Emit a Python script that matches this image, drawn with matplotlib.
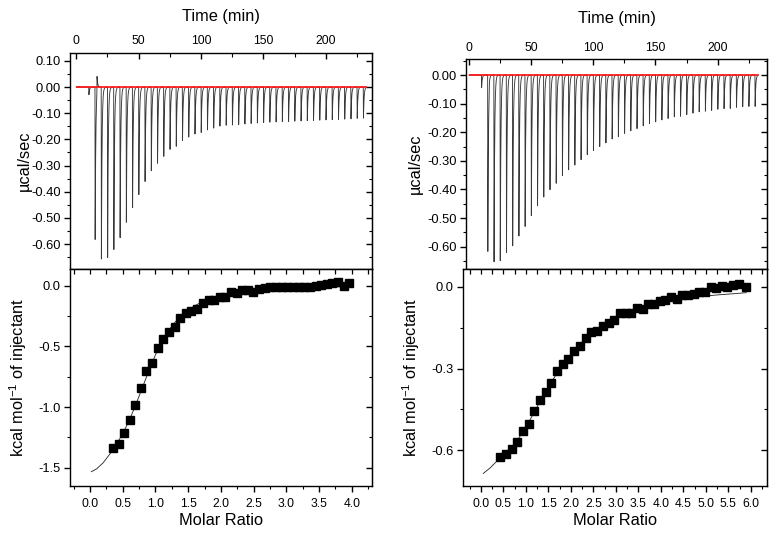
import numpy as np
import matplotlib
matplotlib.use('Agg')
import matplotlib.pyplot as plt
from matplotlib.ticker import MultipleLocator, FormatStrFormatter

plt.rcParams['font.family'] = ['Liberation Sans', 'DejaVu Sans']
plt.rcParams['axes.unicode_minus'] = False
plt.rcParams['mathtext.fontset'] = 'custom'
plt.rcParams['mathtext.rm'] = 'Liberation Sans'
plt.rcParams['mathtext.it'] = 'Liberation Sans:italic'

# ---------------- data ----------------
# injection times (min): first small injection followed by 44 injections
inj_times = [10, 15, 20, 25, 30, 35, 40, 45, 50, 55, 60, 65, 70, 75, 80, 85, 90, 95,
             100, 105, 110, 115, 120, 125, 130, 135, 140, 145, 150, 155, 160, 165,
             170, 175, 180, 185, 190, 195, 200, 205, 210, 215, 220, 225, 230]

# peak heights (ucal/sec) of each injection, left experiment
left_peaks = [-0.030, -0.594, -0.670, -0.664, -0.633, -0.587, -0.527, -0.470, -0.419,
              -0.368, -0.326, -0.297, -0.270, -0.243, -0.231, -0.208, -0.195, -0.183,
              -0.177, -0.167, -0.160, -0.152, -0.149, -0.148, -0.146, -0.144, -0.142,
              -0.140, -0.138, -0.137, -0.136, -0.135, -0.134, -0.133, -0.132, -0.131,
              -0.130, -0.129, -0.128, -0.127, -0.126, -0.125, -0.124, -0.122, -0.121]
left_blip_time = 16.5
left_blip_height = 0.071

# right experiment
right_peaks = [-0.045, -0.629, -0.666, -0.662, -0.633, -0.609, -0.574, -0.540, -0.501,
               -0.466, -0.435, -0.409, -0.386, -0.358, -0.338, -0.321, -0.302, -0.284,
               -0.269, -0.255, -0.242, -0.228, -0.220, -0.208, -0.199, -0.191, -0.181,
               -0.173, -0.167, -0.160, -0.155, -0.149, -0.147, -0.141, -0.136, -0.131,
               -0.129, -0.126, -0.122, -0.120, -0.119, -0.115, -0.113, -0.112, -0.112]
right_blip_time = 16.3
right_blip_height = 0.020

baseline_start = 0.0
baseline_end = 233.0

# integrated heats, left
left_ratio = [0.347, 0.438, 0.520, 0.606, 0.693, 0.775, 0.861, 0.948, 1.034, 1.121,
              1.208, 1.294, 1.381, 1.468, 1.549, 1.636, 1.727, 1.814, 1.900, 1.987,
              2.069, 2.155, 2.242, 2.330, 2.415, 2.497, 2.583, 2.670, 2.757, 2.843,
              2.930, 3.017, 3.100, 3.190, 3.276, 3.363, 3.450, 3.530, 3.618, 3.704,
              3.790, 3.878, 3.965]
left_heat = [-1.335, -1.308, -1.217, -1.107, -0.984, -0.843, -0.700, -0.637, -0.514,
             -0.440, -0.385, -0.338, -0.264, -0.228, -0.209, -0.190, -0.140, -0.121,
             -0.115, -0.096, -0.091, -0.052, -0.060, -0.033, -0.038, -0.049, -0.027,
             -0.019, -0.014, -0.014, -0.008, -0.011, -0.008, -0.011, -0.008, -0.011,
             0.000, 0.005, 0.011, 0.019, 0.027, -0.003, 0.025]

left_fit_x = [0.02, 0.1, 0.2, 0.3, 0.4, 0.5, 0.6, 0.7, 0.8, 0.9, 1.0, 1.1, 1.2, 1.3,
              1.4, 1.5, 1.6, 1.7, 1.8, 1.9, 2.0, 2.2, 2.4, 2.6, 2.8, 3.0, 3.2, 3.4,
              3.6, 3.8, 3.95]
left_fit_y = [-1.533, -1.51, -1.46, -1.39, -1.31, -1.22, -1.11, -0.98, -0.84, -0.70,
              -0.57, -0.46, -0.37, -0.30, -0.245, -0.20, -0.165, -0.137, -0.115,
              -0.097, -0.083, -0.062, -0.047, -0.036, -0.028, -0.022, -0.018, -0.014,
              -0.011, -0.009, -0.008]

# integrated heats, right
right_ratio = [0.430, 0.556, 0.680, 0.807, 0.933, 1.059, 1.185, 1.311, 1.437, 1.563,
               1.689, 1.815, 1.940, 2.067, 2.200, 2.326, 2.452, 2.578, 2.710, 2.837,
               2.963, 3.089, 3.215, 3.340, 3.467, 3.593, 3.719, 3.845, 3.970, 4.096,
               4.222, 4.348, 4.474, 4.600, 4.726, 4.852, 4.978, 5.104, 5.230, 5.356,
               5.480, 5.607, 5.733, 5.896]
right_heat = [-0.626, -0.615, -0.596, -0.571, -0.529, -0.504, -0.454, -0.416, -0.384,
              -0.353, -0.307, -0.282, -0.266, -0.235, -0.217, -0.187, -0.164, -0.162,
              -0.142, -0.133, -0.121, -0.096, -0.097, -0.094, -0.076, -0.080, -0.062,
              -0.061, -0.051, -0.047, -0.037, -0.045, -0.028, -0.029, -0.027, -0.020,
              -0.017, -0.001, -0.002, 0.005, -0.001, 0.009, 0.012, -0.001]

right_fit_x = [0.05, 0.2, 0.4, 0.6, 0.8, 1.0, 1.2, 1.4, 1.6, 1.8, 2.0, 2.2, 2.4, 2.6,
               2.8, 3.0, 3.2, 3.4, 3.6, 3.8, 4.0, 4.4, 4.8, 5.2, 5.6, 5.9]
right_fit_y = [-0.685, -0.665, -0.632, -0.603, -0.565, -0.515, -0.455, -0.395, -0.340,
               -0.290, -0.247, -0.210, -0.180, -0.155, -0.133, -0.115, -0.100, -0.087,
               -0.076, -0.066, -0.058, -0.046, -0.037, -0.030, -0.025, -0.021]


# ---------------- drawing ----------------
def trace(times, peaks, blip_t, blip_h, t_end):
    t = np.arange(0.0, t_end, 0.02)
    y = np.zeros_like(t)
    events = list(zip(times, peaks)) + [(blip_t, blip_h)]
    for ti, hi in events:
        dt = t - ti
        rise = (dt >= 0) & (dt < 0.15)
        y[rise] += hi * dt[rise] / 0.15
        fall = dt >= 0.15
        y[fall] += hi * np.exp(-(dt[fall] - 0.15) / 0.5)
    return t, y


W, H = 776, 541
fig = plt.figure(figsize=(W / 100, H / 100), dpi=100)

YT = 9.3    # y tick label size
XT = 8.7    # x tick label size
LAB = 11.8  # axis label size


def fr(x0, y0, x1, y1):
    return [x0 / W, 1 - y1 / H, (x1 - x0) / W, (y1 - y0) / H]


panels = [
    dict(top=fr(70, 53, 372, 269), bot=fr(70, 269, 372, 486),
         times=inj_times, peaks=left_peaks, bt=left_blip_time, bh=left_blip_height,
         tylim=(-0.695, 0.13), txlim=(-5, 237),
         ratio=left_ratio, heat=left_heat, fx=left_fit_x, fy=left_fit_y,
         bylim=(-1.651, 0.138), bxlim=(-0.306, 4.31), bymaj=0.5, bymin=0.25,
         tlab=-0.126, blab=-0.136, tpad=4.5, tlpad=10),
    dict(top=fr(466, 59, 767, 269), bot=fr(463, 269, 767, 486),
         times=inj_times, peaks=right_peaks, bt=right_blip_time, bh=right_blip_height,
         tylim=(-0.678, 0.056), txlim=(-2.4, 239.7),
         ratio=right_ratio, heat=right_heat, fx=right_fit_x, fy=right_fit_y,
         bylim=(-0.731, 0.066), bxlim=(-0.40, 6.36), bymaj=0.3, bymin=0.15,
         tlab=-0.143, blab=-0.135, tpad=3.5, tlpad=14),
]

for p in panels:
    at = fig.add_axes(p['top'])
    ab = fig.add_axes(p['bot'])
    for ax in (at, ab):
        for s in ax.spines.values():
            s.set_linewidth(1.0)

    # ---- top: raw thermogram
    t, y = trace(p['times'], p['peaks'], p['bt'], p['bh'], baseline_end - 1)
    at.plot(t, y, color='#383838', lw=0.65)
    at.hlines(0.0, baseline_start, baseline_end, color='#ff1010', lw=1.2, zorder=3)
    at.set_xlim(*p['txlim'])
    at.set_ylim(*p['tylim'])
    at.xaxis.set_ticks_position('top')
    at.xaxis.set_label_position('top')
    at.xaxis.set_major_locator(MultipleLocator(50))
    at.xaxis.set_minor_locator(MultipleLocator(25))
    at.yaxis.set_major_locator(MultipleLocator(0.1))
    at.yaxis.set_minor_locator(MultipleLocator(0.05))
    at.yaxis.set_major_formatter(FormatStrFormatter('%.2f'))
    at.tick_params(axis='x', which='both', direction='in', top=True, bottom=False,
                   labeltop=True, labelbottom=False, labelsize=XT, pad=p['tpad'])
    at.tick_params(axis='x', which='major', length=4.5, width=1)
    at.tick_params(axis='x', which='minor', length=3, width=0.8)
    at.tick_params(axis='y', which='both', direction='out', left=True, right=False,
                   labelsize=YT, pad=2.5)
    at.tick_params(axis='y', which='major', length=4, width=1)
    at.tick_params(axis='y', which='minor', length=2.5, width=0.8)
    ar = at.secondary_yaxis('right')
    ar.yaxis.set_major_locator(MultipleLocator(0.1))
    ar.yaxis.set_minor_locator(MultipleLocator(0.05))
    ar.tick_params(axis='y', which='both', direction='in', labelright=False)
    ar.tick_params(axis='y', which='major', length=4, width=1)
    ar.tick_params(axis='y', which='minor', length=2.5, width=0.8)
    at.set_xlabel('Time (min)', fontsize=LAB, labelpad=p['tlpad'])
    at.set_ylabel('µcal/sec', fontsize=LAB)
    at.yaxis.set_label_coords(p['tlab'], 0.5)

    # ---- bottom: integrated heats
    ab.plot(p['fx'], p['fy'], color='#202020', lw=0.6, zorder=2)
    ab.plot(p['ratio'], p['heat'], linestyle='none', marker='s', ms=5.4,
            color='black', zorder=3)
    ab.set_xlim(*p['bxlim'])
    ab.set_ylim(*p['bylim'])
    ab.xaxis.set_major_locator(MultipleLocator(0.5))
    ab.xaxis.set_minor_locator(MultipleLocator(0.25))
    ab.xaxis.set_major_formatter(FormatStrFormatter('%.1f'))
    ab.yaxis.set_major_locator(MultipleLocator(p['bymaj']))
    ab.yaxis.set_minor_locator(MultipleLocator(p['bymin']))
    ab.yaxis.set_major_formatter(FormatStrFormatter('%.1f'))
    ab.tick_params(axis='both', which='both', direction='out')
    ab.tick_params(axis='x', labelsize=XT)
    ab.tick_params(axis='y', labelsize=YT)
    ab.tick_params(axis='x', which='major', length=4.5, width=1, pad=4)
    ab.tick_params(axis='x', which='minor', length=2.5, width=0.8)
    ab.tick_params(axis='y', which='major', length=4, width=1, pad=2.5)
    ab.tick_params(axis='y', which='minor', length=2.5, width=0.8)
    bt_ = ab.secondary_xaxis('top')
    bt_.xaxis.set_major_locator(MultipleLocator(0.25))
    bt_.tick_params(axis='x', which='both', direction='in', labeltop=False,
                    length=3.5, width=0.9)
    br_ = ab.secondary_yaxis('right')
    br_.yaxis.set_major_locator(MultipleLocator(p['bymaj']))
    br_.yaxis.set_minor_locator(MultipleLocator(p['bymin']))
    br_.tick_params(axis='y', which='both', direction='in', labelright=False)
    br_.tick_params(axis='y', which='major', length=4, width=1)
    br_.tick_params(axis='y', which='minor', length=2.5, width=0.8)
    ab.set_xlabel('Molar Ratio', fontsize=LAB, labelpad=2.5)
    ab.set_ylabel('kcal mol$^{-1}$ of injectant', fontsize=LAB)
    ab.yaxis.set_label_coords(p['blab'], 0.5)

fig.savefig('out.png', dpi=100)
